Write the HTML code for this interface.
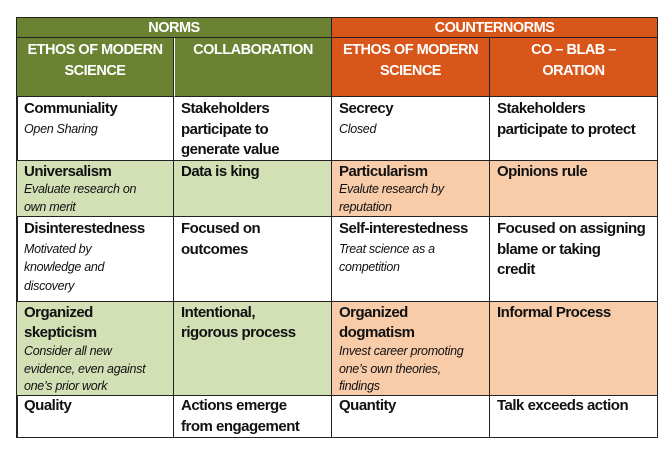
<!DOCTYPE html>
<html><head><meta charset="utf-8"><style>
body{margin:0;width:666px;height:454px;background:#fff;position:relative;overflow:hidden;font-family:"Liberation Sans",sans-serif;}
.c{position:absolute;box-sizing:border-box;padding:2px 7px;font-weight:bold;font-size:15px;letter-spacing:-0.5px;line-height:20.5px;color:#111;border-right:1.5px solid #222;border-bottom:1.5px solid #222;white-space:nowrap;}
.i{display:block;font-weight:normal;font-style:italic;font-size:12.5px;letter-spacing:-0.3px;line-height:18.5px;}
.h{color:#fff;text-align:center;font-size:14.5px;}
.g{background:#6a8232}.o{background:#d9561a}.lg{background:#d3e0b6}.lo{background:#f8cba9}
</style></head><body>
<div style="position:absolute;left:16px;top:17px;width:642px;height:421px;border-left:2px solid #222;border-top:2px solid #222;box-sizing:border-box"></div>
<div class="c h g" style="left:17px;top:18px;width:315px;height:20px;padding:0">NORMS</div>
<div class="c h o" style="left:332px;top:18px;width:326px;height:20px;padding:0">COUNTERNORMS</div>
<div class="c h g" style="left:17px;top:38px;width:157px;height:59px">ETHOS OF MODERN<br>SCIENCE</div>
<div class="c h g" style="left:174px;top:38px;width:158px;height:59px;border-left:1.5px solid #fff">COLLABORATION</div>
<div class="c h o" style="left:332px;top:38px;width:158px;height:59px">ETHOS OF MODERN<br>SCIENCE</div>
<div class="c h o" style="left:490px;top:38px;width:168px;height:59px">CO – BLAB –<br>ORATION</div>

<div class="c" style="left:17px;top:97px;width:157px;height:64px">Communiality<span class="i">Open Sharing</span></div>
<div class="c" style="left:174px;top:97px;width:158px;height:64px">Stakeholders<br>participate to<br>generate value</div>
<div class="c" style="left:332px;top:97px;width:158px;height:64px">Secrecy<span class="i">Closed</span></div>
<div class="c" style="left:490px;top:97px;width:168px;height:64px">Stakeholders<br>participate to protect</div>

<div class="c lg" style="left:17px;top:161px;width:157px;height:56px;line-height:19px;padding-top:1px">Universalism<span class="i" style="line-height:17.5px">Evaluate research on<br>own merit</span></div>
<div class="c lg" style="left:174px;top:161px;width:158px;height:56px;padding-top:1px">Data is king</div>
<div class="c lo" style="left:332px;top:161px;width:158px;height:56px;line-height:19px;padding-top:1px">Particularism<span class="i" style="line-height:17.5px">Evalute research by<br>reputation</span></div>
<div class="c lo" style="left:490px;top:161px;width:168px;height:56px;padding-top:1px">Opinions rule</div>

<div class="c" style="left:17px;top:217px;width:157px;height:85px">Disinterestedness<span class="i">Motivated by<br>knowledge and<br>discovery</span></div>
<div class="c" style="left:174px;top:217px;width:158px;height:85px">Focused on<br>outcomes</div>
<div class="c" style="left:332px;top:217px;width:158px;height:85px">Self-interestedness<span class="i">Treat science as a<br>competition</span></div>
<div class="c" style="left:490px;top:217px;width:168px;height:85px">Focused on assigning<br>blame or taking<br>credit</div>

<div class="c lg" style="left:17px;top:302px;width:157px;height:94px;line-height:20px;padding-top:1px">Organized<br>skepticism<span class="i" style="line-height:17.5px">Consider all new<br>evidence, even against<br>one’s prior work</span></div>
<div class="c lg" style="left:174px;top:302px;width:158px;height:94px;line-height:20px;padding-top:1px">Intentional,<br>rigorous process</div>
<div class="c lo" style="left:332px;top:302px;width:158px;height:94px;line-height:20px;padding-top:1px">Organized<br>dogmatism<span class="i" style="line-height:17.5px">Invest career promoting<br>one’s own theories,<br>findings</span></div>
<div class="c lo" style="left:490px;top:302px;width:168px;height:94px;padding-top:1px">Informal Process</div>

<div class="c" style="left:17px;top:396px;width:157px;height:42px;padding-top:0">Quality</div>
<div class="c" style="left:174px;top:396px;width:158px;height:42px;padding-top:0">Actions emerge<br>from engagement</div>
<div class="c" style="left:332px;top:396px;width:158px;height:42px;padding-top:0">Quantity</div>
<div class="c" style="left:490px;top:396px;width:168px;height:42px;padding-top:0">Talk exceeds action</div>
</body></html>
